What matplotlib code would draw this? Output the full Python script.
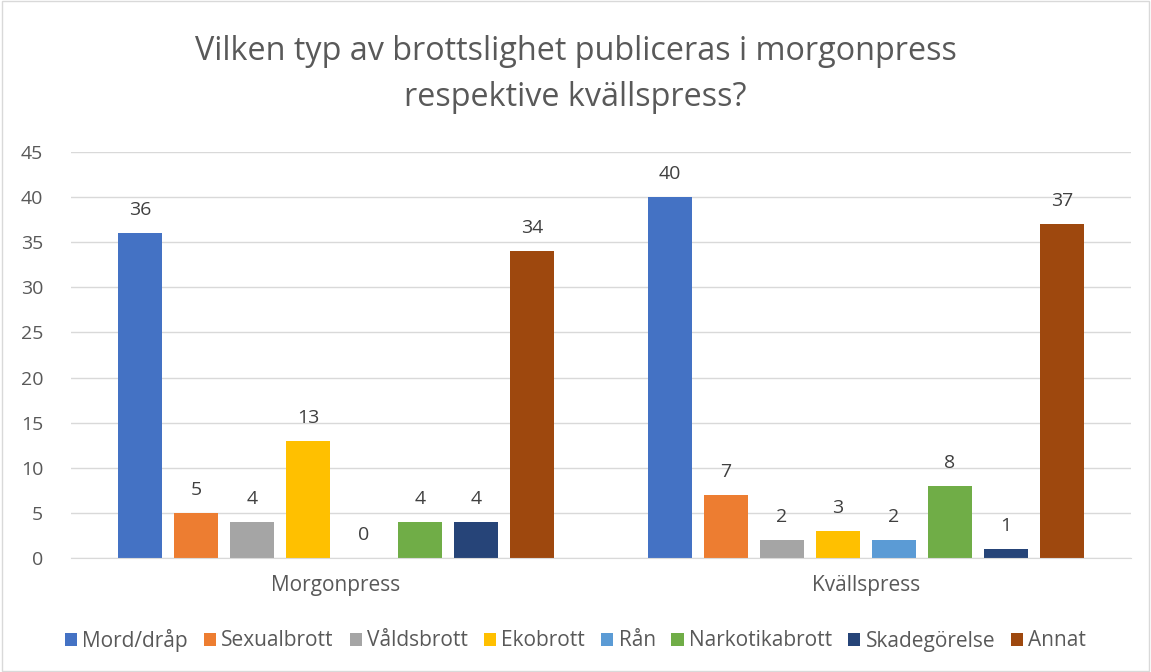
import numpy as np
import matplotlib.pyplot as plt
from matplotlib.patches import Rectangle

# data
categories = ["Morgonpress", "Kvällspress"]
series_names = ["Mord/dråp", "Sexualbrott", "Våldsbrott", "Ekobrott",
                "Rån", "Narkotikabrott", "Skadegörelse", "Annat"]
morgonpress = [36, 5, 4, 13, 0, 4, 4, 34]
kvallspress = [40, 7, 2, 3, 2, 8, 1, 37]
colors = ["#4472C4", "#ED7D31", "#A5A5A5", "#FFC000",
          "#5B9BD5", "#70AD47", "#264478", "#9E480E"]
y_ticks = [0, 5, 10, 15, 20, 25, 30, 35, 40, 45]

plt.rcParams['font.family'] = ['Open Sans', 'DejaVu Sans']

fig = plt.figure(figsize=(11.51, 6.72), dpi=100)
ax = fig.add_axes([71 / 1151, 1 - 558 / 672, 1060 / 1151, 406 / 672])

values = np.array([morgonpress, kvallspress])
x = np.arange(len(categories))
step = 56 / 530
width = 44 / 530

for i, name in enumerate(series_names):
    offset = step * (i - (len(series_names) - 1) / 2)
    bars = ax.bar(x + offset, values[:, i], width, color=colors[i], label=name)
    ax.bar_label(bars, fmt='%d', padding=10, fontsize=14, color='#404040')

ax.set_xlim(-0.5, 1.5)
ax.set_ylim(0, 45)
ax.set_yticks(y_ticks)
ax.set_xticks(x)
ax.set_xticklabels(categories)
ax.tick_params(axis='both', length=0, colors='#595959')
ax.tick_params(axis='y', pad=20, labelsize=14)
ax.tick_params(axis='x', pad=12, labelsize=15)

ax.grid(axis='y', color='#D9D9D9', linewidth=1)
ax.set_axisbelow(True)
for side in ['top', 'right', 'left']:
    ax.spines[side].set_visible(False)
ax.spines['bottom'].set_color('#D9D9D9')

fig.text(0.5, 1 - 52 / 672, "Vilken typ av brottslighet publiceras i morgonpress",
         ha='center', va='center', fontsize=23.3, color='#595959')
fig.text(0.5, 1 - 98 / 672, "respektive kvällspress?",
         ha='center', va='center', fontsize=23.3, color='#595959')

fig.legend(loc='center', bbox_to_anchor=(0.5, 1 - 640 / 672), ncol=8,
           frameon=False, fontsize=15, handlelength=0.6, handleheight=0.6,
           handletextpad=0.25, columnspacing=0.75, labelcolor='#595959')

fig.patches.append(Rectangle((0.002, 0.002), 0.996, 0.996, transform=fig.transFigure,
                             fill=False, edgecolor='#D9D9D9', linewidth=1))

fig.savefig("out.png", dpi=100)
